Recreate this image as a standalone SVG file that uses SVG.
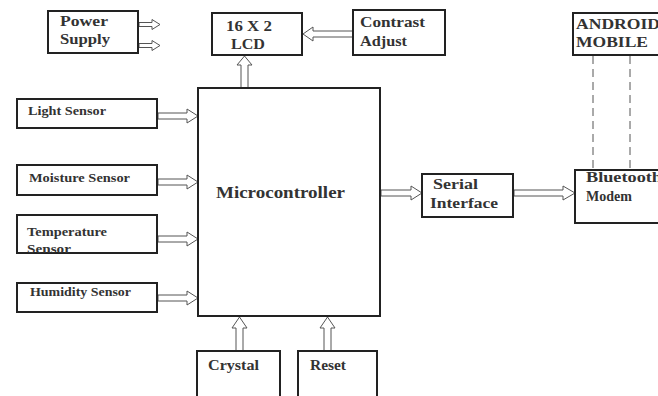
<svg xmlns="http://www.w3.org/2000/svg" width="658" height="396" viewBox="0 0 658 396">
<style>
.box{fill:#fff;stroke:#222;stroke-width:2}
.t{font-family:"Liberation Serif",serif;font-weight:bold;fill:#333}
.s{font-size:12px}
.m{font-size:14px}
.arr{fill:#fff;stroke:#555;stroke-width:1}
.dash{stroke:#555;stroke-width:1;stroke-dasharray:8,5;fill:none}
</style>
<rect width="658" height="396" fill="#fff"/>
<g id="connectors">
<polygon class="arr" points="139,22.5 152,22.5 152,19.5 160,24.5 152,29.5 152,26.5 139,26.5"/>
<polygon class="arr" points="139,43.5 152,43.5 152,40.5 160,45.5 152,50.5 152,47.5 139,47.5"/>
<polygon class="arr" points="241,88 241,65 237,65 244.5,56 252,65 248,65 248,88"/>
<polygon class="arr" points="353,31 313,31 313,27 303,34 313,41 313,37 353,37"/>
<polygon class="arr" points="158,113 187,113 187,109 198,116 187,123 187,119 158,119"/>
<polygon class="arr" points="158,179 187,179 187,175 198,182 187,189 187,185 158,185"/>
<polygon class="arr" points="158,236 187,236 187,232 198,239 187,246 187,242 158,242"/>
<polygon class="arr" points="158,295 187,295 187,291 198,298 187,305 187,301 158,301"/>
<polygon class="arr" points="381,190 411,190 411,186 422,193 411,200 411,196 381,196"/>
<polygon class="arr" points="514,190 563,190 563,186 575,193 563,200 563,196 514,196"/>
<polygon class="arr" points="236,351 236,328 232,328 239.5,317 247,328 243,328 243,351"/>
<polygon class="arr" points="324,351 324,328 320,328 327.5,317 335,328 331,328 331,351"/>
<line class="dash" x1="593" y1="56" x2="593" y2="170"/>
<line class="dash" x1="630" y1="56" x2="630" y2="170"/>
</g>
<g id="power"><rect class="box" x="48" y="11" width="90" height="42"/><text class="t m" x="60" y="26" textLength="48" lengthAdjust="spacingAndGlyphs">Power</text><text class="t m" x="60" y="44" textLength="50" lengthAdjust="spacingAndGlyphs">Supply</text></g>
<g id="lcd"><rect class="box" x="212" y="13" width="90" height="42"/><text class="t" font-size="15" x="226" y="31" textLength="46" lengthAdjust="spacingAndGlyphs">16 X 2</text><text class="t" font-size="15" x="231" y="49" textLength="34" lengthAdjust="spacingAndGlyphs">LCD</text></g>
<g id="contrast"><rect class="box" x="353" y="10" width="92" height="45"/><text class="t m" x="360" y="27" textLength="65" lengthAdjust="spacingAndGlyphs">Contrast</text><text class="t m" x="360" y="46" textLength="47" lengthAdjust="spacingAndGlyphs">Adjust</text></g>
<g id="android"><rect class="box" x="573" y="13" width="90" height="42"/><text class="t m" x="576" y="29" textLength="84" lengthAdjust="spacingAndGlyphs">ANDROID</text><text class="t m" x="576" y="47" textLength="72" lengthAdjust="spacingAndGlyphs">MOBILE</text></g>
<g id="light"><rect class="box" x="17" y="99" width="140" height="29"/><text class="t s" x="28" y="115" textLength="78" lengthAdjust="spacingAndGlyphs">Light Sensor</text></g>
<g id="moisture"><rect class="box" x="17" y="165" width="140" height="30"/><text class="t s" x="29" y="182" textLength="101" lengthAdjust="spacingAndGlyphs">Moisture Sensor</text></g>
<g id="temperature"><rect class="box" x="17" y="215" width="140" height="38"/><text class="t s" x="27" y="236" textLength="80" lengthAdjust="spacingAndGlyphs">Temperature</text><text class="t s" x="27" y="253" textLength="44" lengthAdjust="spacingAndGlyphs">Sensor</text></g>
<g id="humidity"><rect class="box" x="17" y="283" width="140" height="29"/><text class="t s" x="30" y="296" textLength="101" lengthAdjust="spacingAndGlyphs">Humidity Sensor</text></g>
<g id="micro"><rect class="box" x="198" y="88" width="182" height="228"/><text class="t" font-size="17" x="216" y="198" textLength="129" lengthAdjust="spacingAndGlyphs">Microcontroller</text></g>
<g id="serial"><rect class="box" x="422" y="174" width="91" height="43"/><text class="t m" x="433" y="189" textLength="45" lengthAdjust="spacingAndGlyphs">Serial</text><text class="t m" x="430" y="208" textLength="68" lengthAdjust="spacingAndGlyphs">Interface</text></g>
<g id="bluetooth"><rect class="box" x="575" y="170" width="90" height="53"/><text class="t m" x="586" y="182" textLength="76" lengthAdjust="spacingAndGlyphs">Bluetooth</text><text class="t m" x="586" y="201">Modem</text></g>
<g id="crystal"><rect class="box" x="197" y="351" width="83" height="50"/><text class="t m" x="208" y="370" textLength="51" lengthAdjust="spacingAndGlyphs">Crystal</text></g>
<g id="reset"><rect class="box" x="298" y="351" width="79" height="50"/><text class="t m" x="310" y="370" textLength="36" lengthAdjust="spacingAndGlyphs">Reset</text></g>
</svg>
